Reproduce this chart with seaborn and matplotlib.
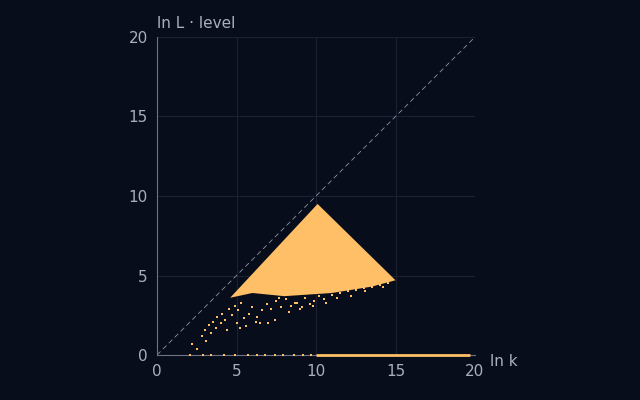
import matplotlib
matplotlib.use("Agg")
import matplotlib.pyplot as plt
import seaborn as sns
import numpy as np

# dense region outline (ln k, ln L)
region_k = [4.6, 10.1, 15.0, 13.5, 11.0, 8.0, 6.0, 4.6]
region_L = [3.6, 9.5, 4.7, 4.3, 3.9, 3.7, 3.9, 3.6]
# sparse points
pts_k = [2.2, 2.5, 2.8, 3.0, 3.1, 3.3, 3.4, 3.5, 3.7, 3.8, 4.0, 4.1, 4.3, 4.5, 4.7, 4.9,
         5.1, 5.3, 5.5, 5.8, 6.0, 6.3, 6.6, 6.9, 7.2, 7.5, 7.8, 8.1, 8.4, 8.7, 9.0,
         9.3, 9.6, 9.9, 10.2, 10.5, 11.0, 11.5, 12.0, 12.5, 13.0, 13.5, 14.0, 14.5,
         5.0, 5.6, 6.2, 7.0, 7.7, 8.3, 9.1, 9.8, 10.6, 11.3, 12.2, 13.1, 14.2,
         4.4, 5.2, 6.5, 7.4, 8.8, 9.5, 10.8, 12.6, 13.8]
pts_L = [0.7, 0.4, 1.2, 1.6, 0.9, 1.9, 1.4, 2.1, 1.7, 2.4, 2.0, 2.6, 2.2, 2.9, 2.5, 3.1,
         2.8, 3.3, 2.3, 2.6, 3.0, 2.4, 2.8, 3.2, 2.9, 3.4, 3.0, 3.5, 3.1, 3.3, 2.9,
         3.6, 3.2, 3.4, 3.7, 3.5, 3.8, 3.9, 4.0, 4.1, 4.2, 4.3, 4.4, 4.5,
         2.0, 1.8, 2.1, 2.0, 3.6, 2.7, 3.0, 3.1, 3.3, 3.6, 3.7, 4.0, 4.3,
         1.6, 1.7, 2.0, 2.2, 3.3, 3.9, 4.2, 4.6, 5.0]
base_k = [2.1, 2.9, 3.4, 4.2, 4.9, 5.7, 6.3, 6.8, 7.4, 7.9, 8.6, 9.2, 9.7]
base_L = [0.0] * len(base_k)
line_k = [10.0, 19.7]
line_L = [0.0, 0.0]

bg = "#070d1a"
orange = "#ffbf66"
sns.set_style("dark")
fig = plt.figure(figsize=(6.4, 4.0), dpi=100, facecolor=bg)
ax = fig.add_axes([157/640, 45/400, 318/640, 318/400], facecolor=bg)
ax.set_facecolor(bg)
ax.set_axisbelow(True)
ax.fill(region_k, region_L, color=orange, lw=0, zorder=3)
sns.scatterplot(x=pts_k, y=pts_L, ax=ax, color=orange, s=4, marker="s", linewidth=0, zorder=3)
sns.scatterplot(x=base_k, y=base_L, ax=ax, color=orange, s=3, marker="s", linewidth=0, zorder=3, clip_on=False)
sns.lineplot(x=line_k, y=line_L, ax=ax, color=orange, lw=2, zorder=3, solid_capstyle="butt").lines[-1].set_clip_on(False)
ax.plot([0, 20], [0, 20], ls=(0, (6, 4)), color="#8a93a6", lw=0.6, zorder=2)
ax.set_xlim(0, 20); ax.set_ylim(0, 20)
ax.set_xticks([0, 5, 10, 15, 20]); ax.set_yticks([0, 5, 10, 15, 20])
ax.grid(True, color="#1a2232", lw=0.8, zorder=0)
for s in ["top", "right"]:
    ax.spines[s].set_visible(False)
for s in ["left", "bottom"]:
    ax.spines[s].set_color("#6b7385")
ax.tick_params(colors="#a8b0c0", labelsize=11, length=3)
fig.text(157/640, 377/400, "ln L · level", color="#a8b0c0", fontsize=11, va="center")
fig.text(490/640, 38/400, "ln k", color="#a8b0c0", fontsize=11, va="center")
fig.savefig("out.png", dpi=100, facecolor=bg)
